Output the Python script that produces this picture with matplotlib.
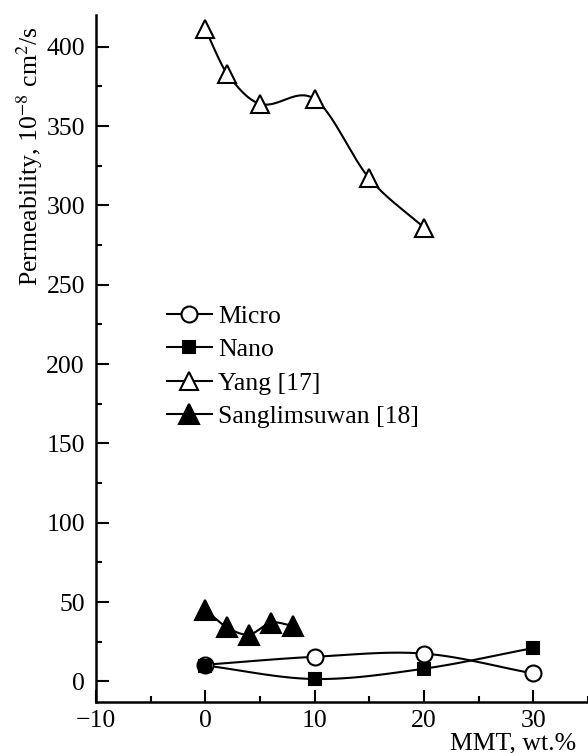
import numpy as np
import matplotlib
matplotlib.use("Agg")
import matplotlib.pyplot as plt
from matplotlib.ticker import MultipleLocator

plt.rcParams["font.family"] = ["Liberation Serif", "DejaVu Serif"]
plt.rcParams["mathtext.fontset"] = "stix"
plt.rcParams["axes.unicode_minus"] = True

# data
micro_x = [0, 10, 20, 30]
micro_y = [10.5, 15.5, 17.5, 5]

nano_x = [0, 10, 20, 30]
nano_y = [10, 1.5, 8, 21]

yang_x = [0, 2, 5, 10, 15, 20]
yang_y = [411, 383, 364, 367, 317, 286]

sangl_x = [0, 2, 4, 6, 8]
sangl_y = [45, 34, 29.5, 37, 35]


def smooth(x, y, n=40):
    """catmull-rom style curve through the points, only for drawing"""
    x = np.asarray(x, float)
    y = np.asarray(y, float)
    k = len(x)
    m = np.zeros(k)
    m[0] = (y[1] - y[0]) / (x[1] - x[0])
    m[-1] = (y[-1] - y[-2]) / (x[-1] - x[-2])
    for i in range(1, k - 1):
        m[i] = (y[i + 1] - y[i - 1]) / (x[i + 1] - x[i - 1])
    out_x, out_y = [], []
    for i in range(k - 1):
        h = x[i + 1] - x[i]
        t = np.linspace(0, 1, n)
        h00 = 2 * t ** 3 - 3 * t ** 2 + 1
        h10 = t ** 3 - 2 * t ** 2 + t
        h01 = -2 * t ** 3 + 3 * t ** 2
        h11 = t ** 3 - t ** 2
        out_x.append(x[i] + t * h)
        out_y.append(h00 * y[i] + h10 * h * m[i] + h01 * y[i + 1] + h11 * h * m[i + 1])
    return np.concatenate(out_x), np.concatenate(out_y)


fig = plt.figure(figsize=(5.88, 7.53), dpi=100)
ax = fig.add_axes([96 / 588, 1 - 702 / 753, 1 - 96 / 588, (702 - 15) / 753])

lw = 1.5
series = [
    (micro_x, micro_y, "o", "white", 11.5, "Micro"),
    (nano_x, nano_y, "s", "black", 9, "Nano"),
    (yang_x, yang_y, "^", "white", 13.5, "Yang [17]"),
    (sangl_x, sangl_y, "^", "black", 14, "Sanglimsuwan [18]"),
]

handles = []
for xs, ys, m, fc, ms, lab in series:
    sx, sy = smooth(xs, ys)
    ax.plot(sx, sy, color="black", linewidth=lw, zorder=2)
    ax.plot(xs, ys, linestyle="none", marker=m, markersize=ms,
            markerfacecolor=fc, markeredgecolor="black",
            markeredgewidth=1.5, zorder=3, clip_on=False)
    h, = ax.plot([], [], color="black", linewidth=lw, marker=m,
                 markersize=ms, markerfacecolor=fc,
                 markeredgecolor="black", markeredgewidth=1.5, label=lab)
    handles.append(h)

ax.set_xlim(-10, 35)
ax.set_ylim(-13, 420)

ax.xaxis.set_major_locator(MultipleLocator(10))
ax.xaxis.set_minor_locator(MultipleLocator(5))
ax.yaxis.set_major_locator(MultipleLocator(50))
ax.yaxis.set_minor_locator(MultipleLocator(25))

for side in ["top", "right"]:
    ax.spines[side].set_visible(False)
for side in ["left", "bottom"]:
    ax.spines[side].set_linewidth(1.8)

ax.tick_params(which="major", direction="in", length=9, width=1.5,
               labelsize=18.5, pad=8)
ax.tick_params(axis="x", which="major", pad=6)
ax.tick_params(which="minor", direction="in", length=4.5, width=1.5)

fig.text(576 / 588, 1 - 749 / 753, "MMT, wt.%", ha="right", va="baseline",
         fontsize=18.5)
fig.text(30 / 588, 1 - 156 / 753,
         r"Permeability, 10$^{-8}$ cm$^{2}$/s",
         rotation=90, ha="center", va="center", fontsize=18.5)

fig.legend(handles=handles, loc="upper left",
           bbox_to_anchor=(167 / 588, 1 - 305 / 753),
           bbox_transform=fig.transFigure, frameon=False,
           fontsize=18.5, handlelength=1.75, handletextpad=0.25,
           labelspacing=0.4, borderpad=0, borderaxespad=0)

fig.savefig("out.png", dpi=100)
